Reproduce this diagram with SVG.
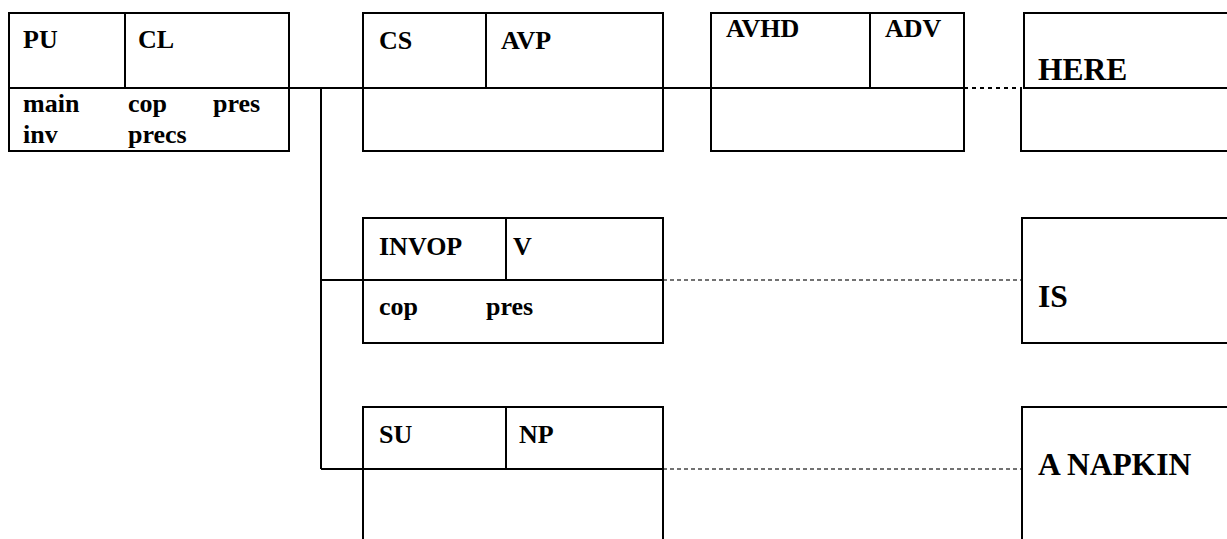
<svg xmlns="http://www.w3.org/2000/svg" width="1227" height="539" viewBox="0 0 1227 539">
<style>
.b{fill:none;stroke:#000;stroke-width:2}
.t{font-family:"Liberation Serif","Times New Roman",serif;font-weight:bold;font-size:26px;fill:#000}
.big{font-size:31.5px}
.dash{fill:none;stroke:#444;stroke-width:1.5;stroke-dasharray:4 3}
.dot{fill:none;stroke:#000;stroke-width:2;stroke-dasharray:4 4}
</style>
<rect width="1227" height="539" fill="#fff"/>
<g id="connectors">
<path class="b" d="M289 88H363M663 88H711"/>
<path class="b" d="M321 88V469M321 280H363M321 469H363"/>
<path class="dot" d="M964 88H1022"/>
<path class="dash" d="M663 280H1022M663 469H1022"/>
</g>
<g id="node-pu-cl">
<rect class="b" x="9" y="13" width="280" height="138"/>
<path class="b" d="M9 88H289M125 13V88"/>
<text class="t" x="23" y="48">PU</text>
<text class="t" x="138" y="48">CL</text>
<text class="t" x="23" y="112">main</text>
<text class="t" x="128" y="112">cop</text>
<text class="t" x="213" y="112">pres</text>
<text class="t" x="23" y="143">inv</text>
<text class="t" x="128" y="143">precs</text>
</g>
<g id="node-cs-avp">
<rect class="b" x="363" y="13" width="300" height="138"/>
<path class="b" d="M363 88H663M486 13V88"/>
<text class="t" x="379" y="49">CS</text>
<text class="t" x="501" y="49">AVP</text>
</g>
<g id="node-avhd-adv">
<rect class="b" x="711" y="13" width="253" height="138"/>
<path class="b" d="M711 88H964M870 13V88"/>
<text class="t" x="726" y="37">AVHD</text>
<text class="t" x="885" y="37">ADV</text>
</g>
<g id="node-here">
<path class="b" d="M1240 13H1024V88H1240M1021 88V151H1240"/>
<text class="t big" x="1038" y="80">HERE</text>
</g>
<g id="node-invop-v">
<rect class="b" x="363" y="218" width="300" height="125"/>
<path class="b" d="M363 280H663M506 218V280"/>
<text class="t" x="379" y="255">INVOP</text>
<text class="t" x="513" y="255">V</text>
<text class="t" x="379" y="315">cop</text>
<text class="t" x="486" y="315">pres</text>
</g>
<g id="node-is">
<path class="b" d="M1240 218H1022V343H1240"/>
<text class="t big" x="1038" y="307">IS</text>
</g>
<g id="node-su-np">
<path class="b" d="M363 545V407H663V545M363 469H663M506 407V469"/>
<text class="t" x="379" y="443">SU</text>
<text class="t" x="519" y="443">NP</text>
</g>
<g id="node-a-napkin">
<path class="b" d="M1240 407H1022V545"/>
<text class="t big" x="1038" y="475">A NAPKIN</text>
</g>
</svg>
